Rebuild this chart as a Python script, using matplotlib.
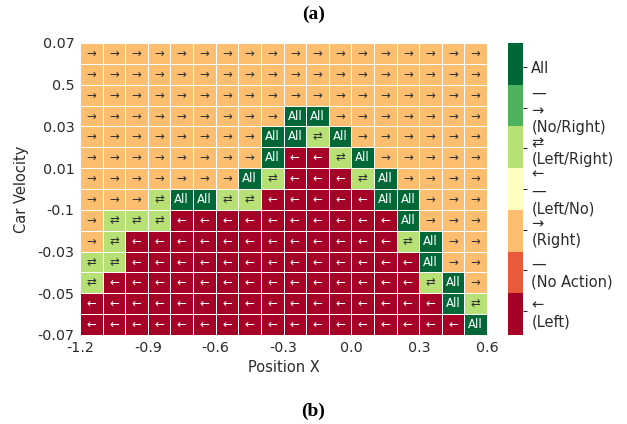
import numpy as np
import matplotlib
matplotlib.use('Agg')
import matplotlib.pyplot as plt

# Policy grid, rows from top (high velocity) to bottom (low velocity)
# L = left, R = right, B = left/right, A = all actions
policy_rows = [
    'RRRRRRRRRRRRRRRRRR',
    'RRRRRRRRRRRRRRRRRR',
    'RRRRRRRRRRRRRRRRRR',
    'RRRRRRRRRAARRRRRRR',
    'RRRRRRRRAABARRRRRR',
    'RRRRRRRRALLBARRRRR',
    'RRRRRRRABLLLBARRRR',
    'RRRBAABBLLLLLAARRR',
    'RBBBLLLLLLLLLLARRR',
    'RBLLLLLLLLLLLLBARR',
    'BBLLLLLLLLLLLLLARR',
    'BLLLLLLLLLLLLLLBAR',
    'LLLLLLLLLLLLLLLLAB',
    'LLLLLLLLLLLLLLLLLA',
]
code_of = {'L': 0, 'N': 1, 'R': 2, 'Q': 3, 'B': 4, 'S': 5, 'A': 6}
cell_text = {0: '←', 1: '—', 2: '→', 3: '←—', 4: '⇄', 5: '—→', 6: 'All'}

x_range = (-1.2, 0.6)
y_range = (-0.07, 0.07)
x_tick_vals = [-1.2, -0.9, -0.6, -0.3, 0.0, 0.3, 0.6]
x_tick_labels = ['-1.2', '-0.9', '-0.6', '-0.3', '0.0', '0.3', '0.6']
y_tick_vals = [-0.07, -0.05, -0.03, -0.01, 0.01, 0.03, 0.05, 0.07]
y_tick_labels = ['-0.07', '-0.05', '-0.03', '-0.1', '0.01', '0.03', '0.5', '0.07']
cbar_labels = ['←\n(Left)', '—\n(No Action)', '→\n(Right)', '←\n—\n(Left/No)',
               '⇄\n(Left/Right)', '—\n→\n(No/Right)', 'All']

text_dark = '#2b2b2b'
plt.rcParams['font.family'] = ['DejaVu Sans']
plt.rcParams['text.color'] = text_dark
plt.rcParams['axes.labelcolor'] = text_dark
plt.rcParams['xtick.color'] = text_dark
plt.rcParams['ytick.color'] = text_dark

Z = np.array([[code_of[c] for c in row] for row in policy_rows])
n_rows, n_cols = Z.shape
x_edges = np.linspace(x_range[0], x_range[1], n_cols + 1)
y_edges = np.linspace(y_range[1], y_range[0], n_rows + 1)
x_mid = (x_edges[:-1] + x_edges[1:]) / 2
y_mid = (y_edges[:-1] + y_edges[1:]) / 2

cmap = plt.get_cmap('RdYlGn', 7)

fig = plt.figure(figsize=(6.27, 4.24), dpi=100)
ax = fig.add_axes([80 / 627, 89 / 424, 407 / 627, 292 / 424])
cax = fig.add_axes([508 / 627, 89 / 424, 15 / 627, 292 / 424])

mesh = ax.pcolormesh(x_edges, y_edges, Z, cmap=cmap, vmin=0, vmax=6,
                     edgecolors='white', linewidth=0.6)

for i in range(n_rows):
    for j in range(n_cols):
        v = Z[i, j]
        col = 'white' if v in (0, 6) else '#333333'
        ax.text(x_mid[j], y_mid[i], cell_text[v], ha='center', va='center',
                fontsize=8.5, color=col)

ax.set_xlim(*x_range)
ax.set_ylim(*y_range)
ax.set_xticks(x_tick_vals)
ax.set_xticklabels(x_tick_labels)
ax.set_yticks(y_tick_vals)
ax.set_yticklabels(y_tick_labels)
ax.tick_params(length=0, labelsize=10.3, pad=4)
for s in ax.spines.values():
    s.set_visible(False)
ax.set_xlabel('Position X', fontsize=10.5)
ax.set_ylabel('Car Velocity', fontsize=10.5)
ax.xaxis.set_label_coords(0.5, -0.085)
ax.yaxis.set_label_coords(-0.125, 0.5)

cbar = fig.colorbar(mesh, cax=cax, ticks=np.linspace(0.5, 5.5, 7))
cbar.set_ticklabels(cbar_labels)
cbar.outline.set_visible(False)
cax.tick_params(length=3, width=0.8, labelsize=10.5, pad=3, color=text_dark)

fig.text(0.5, 1 - 14 / 424, '(a)', ha='center', va='center', fontsize=14,
         fontweight='bold', family='Liberation Serif', color='black')
fig.text(0.5, 1 - 411 / 424, '(b)', ha='center', va='center', fontsize=14,
         fontweight='bold', family='Liberation Serif', color='black')

fig.savefig('out.png', dpi=100)
